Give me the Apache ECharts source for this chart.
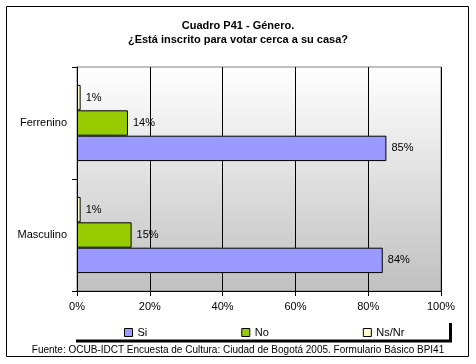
<!DOCTYPE html>
<html>
<head>
<meta charset="utf-8">
<script src="https://cdn.jsdelivr.net/npm/echarts@6/dist/echarts.min.js"></script>
<style>html,body{margin:0;padding:0;background:#fff}#c{width:476px;height:364px}</style>
</head>
<body>
<div id="c"></div>
<script>
var categories = ['Masculino', 'Ferrenino'];
var seriesNames = ['Si', 'No', 'Ns/Nr'];
var siValues = [84, 85];
var noValues = [15, 14];
var nsnrValues = [1, 1];
var xTicks = [0, 20, 40, 60, 80, 100];
var titleText = 'Cuadro P41 - Género.\n¿Está inscrito para votar cerca a su casa?';
var sourceText = 'Fuente: OCUB-IDCT Encuesta de Cultura: Ciudad de Bogotá 2005. Formulario Básico BPI41';

var FONT = 'Arial, "Liberation Sans", sans-serif';
var colors = ['#9999ff', '#99cc00', '#ffffcc'];
var dataSets = [siValues, noValues, nsnrValues];

var chart = echarts.init(document.getElementById('c'), null, {renderer: 'canvas'});

// ECharts stacks series in a band top-to-bottom in series order for this layout,
// so add them reversed (Ns/Nr on top, Si at bottom), keeping legend order Si, No, Ns/Nr.
var series = [2, 1, 0].map(function (i) {
  return {
    name: seriesNames[i],
    type: 'bar',
    data: dataSets[i],
    barGap: '0%',
    barCategoryGap: '32%',
    itemStyle: {color: colors[i], borderColor: '#000', borderWidth: 1},
    label: {
      show: true, position: 'right', distance: 5,
      formatter: '{c}%', color: '#000', fontSize: 11, fontFamily: FONT
    },
    emphasis: {disabled: true},
    animation: false
  };
});

chart.setOption({
  animation: false,
  color: colors,
  title: {
    text: titleText,
    left: 'center', top: 14,
    textStyle: {fontSize: 11, fontWeight: 'bold', fontFamily: FONT, color: '#000', lineHeight: 14}
  },
  grid: {
    left: 77, right: 35, top: 67, bottom: 73,
    show: true,
    borderColor: '#808080', borderWidth: 1,
    backgroundColor: new echarts.graphic.LinearGradient(0, 0, 0, 1, [
      {offset: 0, color: '#ffffff'}, {offset: 1, color: '#c0c0c0'}
    ])
  },
  legend: {
    data: seriesNames,
    left: 119, bottom: 21,
    itemWidth: 8, itemHeight: 8, itemGap: 94,
    icon: 'rect',
    itemStyle: {borderColor: '#000', borderWidth: 1},
    textStyle: {fontSize: 11, fontFamily: FONT, color: '#000'},
    selectedMode: false
  },
  xAxis: {
    type: 'value', min: 0, max: 100, interval: 20,
    axisLine: {show: true, lineStyle: {color: '#000'}},
    axisTick: {show: true, length: 5, lineStyle: {color: '#000'}},
    axisLabel: {
      formatter: function (v) { return xTicks.indexOf(v) >= 0 ? v + '%' : ''; },
      fontSize: 11, fontFamily: FONT, color: '#000', margin: 10
    },
    splitLine: {show: true, lineStyle: {color: '#000', width: 1}}
  },
  yAxis: {
    type: 'category', data: categories,
    axisLine: {show: true, lineStyle: {color: '#000'}},
    axisTick: {show: true, length: 5, lineStyle: {color: '#000'}},
    axisLabel: {fontSize: 11, fontFamily: FONT, color: '#000', margin: 10}
  },
  graphic: [
    {type: 'rect', shape: {x: 6.5, y: 6.5, width: 462, height: 350}, style: {fill: 'none', stroke: '#000', lineWidth: 1}, z: 100},
    {type: 'line', shape: {x1: 76, y1: 341, x2: 452, y2: 341}, style: {stroke: '#000', lineWidth: 3}},
    {type: 'line', shape: {x1: 450.5, y1: 323, x2: 450.5, y2: 342}, style: {stroke: '#000', lineWidth: 3}},
    {type: 'text', left: 'center', top: 345, style: {text: sourceText, fontSize: 10, fontFamily: FONT, fill: '#000'}}
  ],
  series: series
});
</script>
</body>
</html>
